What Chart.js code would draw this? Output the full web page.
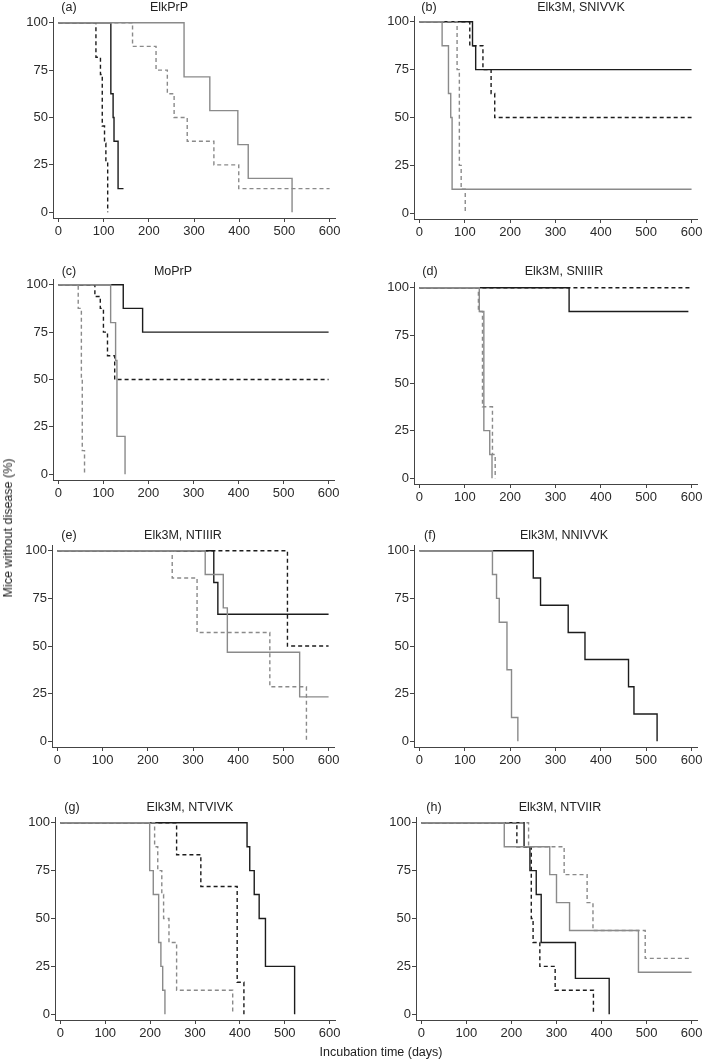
<!DOCTYPE html>
<html>
<head>
<meta charset="utf-8">
<script src="https://cdn.jsdelivr.net/npm/chart.js@4.4.0/dist/chart.umd.min.js"></script>
<style>
  body { margin: 0; background: #fff; width: 706px; height: 1060px; position: relative; overflow: hidden;
         font-family: "Liberation Sans", Arial, sans-serif; color: #222; }
  canvas { position: absolute; }
  .txt { position: absolute; font-size: 12.5px; white-space: nowrap; transform: translate(-50%, -50%); }
  .ytitle { transform: translate(-50%, -50%) rotate(-90deg); }
</style>
</head>
<body>
<script>
// axis ticks
const xTicks = [0, 100, 200, 300, 400, 500, 600];
const yTicks = [0, 25, 50, 75, 100];

const panelLetters = ['(a)', '(b)', '(c)', '(d)', '(e)', '(f)', '(g)', '(h)'];
const panelTitles = ['ElkPrP', 'Elk3M, SNIVVK', 'MoPrP', 'Elk3M, SNIIIR',
                     'Elk3M, NTIIIR', 'Elk3M, NNIVVK', 'Elk3M, NTVIVK', 'Elk3M, NTVIIR'];

// survival curves: [days, % without disease]
const aGreySolid = [[0,100],[278,71.4],[335,53.6],[397,35.7],[420,17.9],[517,0]];
const aGreyDash  = [[0,100],[164,87.5],[216,75],[241,62.5],[256,50],[285,37.5],[344,25],[399,12.5],[600,12.5]];
const aBlackSolid = [[0,100],[116,62.5],[121,50],[123,37.5],[132,12.5],[144,12.5]];
const aBlackDash  = [[0,100],[83,81.8],[93,72.7],[97,45.5],[102,36.4],[105,27.3],[109,0]];

const bGreySolid = [[0,100],[50,87.5],[64,62.5],[69,50],[72,12.5],[600,12.5]];
const bGreyDash  = [[0,100],[83,75],[88,25],[92,12.5],[101,0]];
const bBlackSolid = [[0,100],[117,87.5],[124,75],[600,75]];
const bBlackDash  = [[0,100],[111,87.5],[140,75],[158,62.5],[166,50],[600,50]];

const cGreySolid = [[0,100],[116,80],[127,60],[130,20],[148,0]];
const cGreyDash  = [[0,100],[44,87.5],[51,50],[53,12.5],[58,0]];
const cBlackSolid = [[0,100],[144,87.5],[187,75],[600,75]];
const cBlackDash  = [[0,100],[81,93.8],[93,87.5],[100,75],[109,62.5],[125,50],[600,50]];

const dGreySolid = [[0,100],[132,87.5],[142,25],[155,12.5],[160,0]];
const dGreyDash  = [[0,100],[130,87.5],[139,37.5],[161,12.5],[167,0]];
const dBlackSolid = [[0,100],[330,87.5],[593,87.5]];
const dBlackDash  = [[0,100],[600,100]];

const eGreySolid = [[0,100],[327,87.5],[367,70],[376,46.7],[536,23.3],[600,23.3]];
const eGreyDash  = [[0,100],[254,85.7],[309,57.1],[470,28.6],[551,0]];
const eBlackSolid = [[0,100],[346,83.3],[355,66.7],[600,66.7]];
const eBlackDash  = [[0,100],[509,50],[600,50]];

const fGreySolid = [[0,100],[161,87.5],[170,75],[176,62.5],[193,37.5],[203,12.5],[217,0]];
const fBlackSolid = [[0,100],[251,85.7],[267,71.4],[328,57.1],[365,42.9],[461,28.6],[473,14.3],[524,0]];

const gGreySolid = [[0,100],[199,75],[207,62.5],[219,37.5],[224,25],[228,12.5],[233,0]];
const gGreyDash  = [[0,100],[210,87.5],[217,75],[226,62.5],[230,50],[242,37.5],[259,12.5],[384,0]];
const gBlackSolid = [[0,100],[416,87.5],[422,75],[432,62.5],[443,50],[457,25],[522,0]];
const gBlackDash  = [[0,100],[259,83.3],[313,66.7],[394,16.7],[409,0]];

const hGreySolid = [[0,100],[184,87.5],[285,72.9],[300,58.3],[329,43.75],[482,21.9],[600,21.9]];
const hGreyDash  = [[0,100],[238,87.5],[317,72.9],[368,58.3],[381,43.75],[497,29.2],[600,29.2]];
const hBlackSolid = [[0,100],[228,87.5],[241,75],[255,62.5],[266,37.5],[342,18.75],[417,0]];
const hBlackDash  = [[0,100],[212,87.5],[244,50],[248,37.5],[263,25],[297,12.5],[382,0]];

const panelCurves = [
  { greySolid: aGreySolid, greyDash: aGreyDash, blackSolid: aBlackSolid, blackDash: aBlackDash },
  { greySolid: bGreySolid, greyDash: bGreyDash, blackSolid: bBlackSolid, blackDash: bBlackDash },
  { greySolid: cGreySolid, greyDash: cGreyDash, blackSolid: cBlackSolid, blackDash: cBlackDash },
  { greySolid: dGreySolid, greyDash: dGreyDash, blackSolid: dBlackSolid, blackDash: dBlackDash },
  { greySolid: eGreySolid, greyDash: eGreyDash, blackSolid: eBlackSolid, blackDash: eBlackDash },
  { greySolid: fGreySolid, blackSolid: fBlackSolid },
  { greySolid: gGreySolid, greyDash: gGreyDash, blackSolid: gBlackSolid, blackDash: gBlackDash },
  { greySolid: hGreySolid, greyDash: hGreyDash, blackSolid: hBlackSolid, blackDash: hBlackDash },
];

// where each panel sits on the page (px of x=0, x=600, y=100, y=0) and its label/title centres
const layout = [
  { x0: 58.3, x600: 330, y100: 22.3, y0: 212, lab: [69, 7],    tit: [169, 7] },
  { x0: 419,  x600: 692, y100: 22,   y0: 213, lab: [429, 7],   tit: [581, 7] },
  { x0: 58,   x600: 329, y100: 285,  y0: 474, lab: [69, 271],  tit: [173, 271] },
  { x0: 419,  x600: 692, y100: 288,  y0: 478, lab: [430, 271], tit: [564, 271] },
  { x0: 57.7, x600: 329, y100: 551,  y0: 741, lab: [69, 535],  tit: [183, 535] },
  { x0: 419,  x600: 692, y100: 551,  y0: 741, lab: [430, 535], tit: [564, 535] },
  { x0: 60,   x600: 330, y100: 823,  y0: 1014, lab: [72, 807], tit: [190, 807] },
  { x0: 421,  x600: 692, y100: 823,  y0: 1014, lab: [434, 807], tit: [560, 807] },
];

const lineStyles = {
  greySolid:  { color: '#8a8a8a', dash: [] },
  greyDash:   { color: '#8a8a8a', dash: [4, 3] },
  blackSolid: { color: '#1c1c1c', dash: [] },
  blackDash:  { color: '#1c1c1c', dash: [4, 3] },
};

const X_MIN = -12, X_MAX = 612, Y_MIN = -3, Y_MAX = 103;
const YAX_W = 45, XAX_H = 26, PAD_T = 10, PAD_R = 20;
const tickFont = { family: '"Liberation Sans", Arial, sans-serif', size: 13 };

function addText(str, x, y, extra) {
  const d = document.createElement('div');
  d.className = 'txt' + (extra ? ' ' + extra : '');
  d.textContent = str;
  d.style.left = x + 'px';
  d.style.top = y + 'px';
  document.body.appendChild(d);
}

layout.forEach((g, i) => {
  const kx = (g.x600 - g.x0) / 600, ky = (g.y0 - g.y100) / 100;
  const left = Math.round(g.x0 + X_MIN * kx), right = Math.round(g.x0 + X_MAX * kx);
  const top = Math.round(g.y100 - (Y_MAX - 100) * ky), bottom = Math.round(g.y0 - Y_MIN * ky);

  const cv = document.createElement('canvas');
  cv.width = right - left + YAX_W + PAD_R;
  cv.height = bottom - top + PAD_T + XAX_H;
  cv.style.left = (left - YAX_W) + 'px';
  cv.style.top = (top - PAD_T) + 'px';
  document.body.appendChild(cv);

  const curves = panelCurves[i];
  const datasets = Object.keys(curves).map(k => ({
    data: curves[k].map(p => ({ x: p[0], y: p[1] })),
    borderColor: lineStyles[k].color,
    borderDash: lineStyles[k].dash,
    borderWidth: 1.4,
    stepped: true,
    pointRadius: 0,
    fill: false,
  }));

  new Chart(cv, {
    type: 'line',
    data: { datasets },
    options: {
      responsive: false,
      animation: false,
      layout: { padding: { top: PAD_T, right: PAD_R, left: 0, bottom: 0 } },
      plugins: { legend: { display: false }, tooltip: { enabled: false } },
      scales: {
        x: {
          type: 'linear', min: X_MIN, max: X_MAX,
          afterBuildTicks: s => { s.ticks = xTicks.map(v => ({ value: v })); },
          afterFit: s => { s.height = XAX_H; },
          ticks: { font: tickFont, color: '#2a2a2a', padding: 2, maxRotation: 0 },
          grid: { drawOnChartArea: false, tickLength: 4, color: '#444' },
          border: { color: '#444', width: 1 },
        },
        y: {
          type: 'linear', min: Y_MIN, max: Y_MAX,
          afterBuildTicks: s => { s.ticks = yTicks.map(v => ({ value: v })); },
          afterFit: s => { s.width = YAX_W; },
          ticks: { font: tickFont, color: '#2a2a2a', padding: 1 },
          grid: { drawOnChartArea: false, tickLength: 4, color: '#444' },
          border: { color: '#444', width: 1 },
        },
      },
    },
  });

  addText(panelLetters[i], g.lab[0], g.lab[1]);
  addText(panelTitles[i], g.tit[0], g.tit[1]);
});

addText('Incubation time (days)', 381, 1052);
addText('Mice without disease (%)', 8, 528, 'ytitle');
</script>
</body>
</html>
